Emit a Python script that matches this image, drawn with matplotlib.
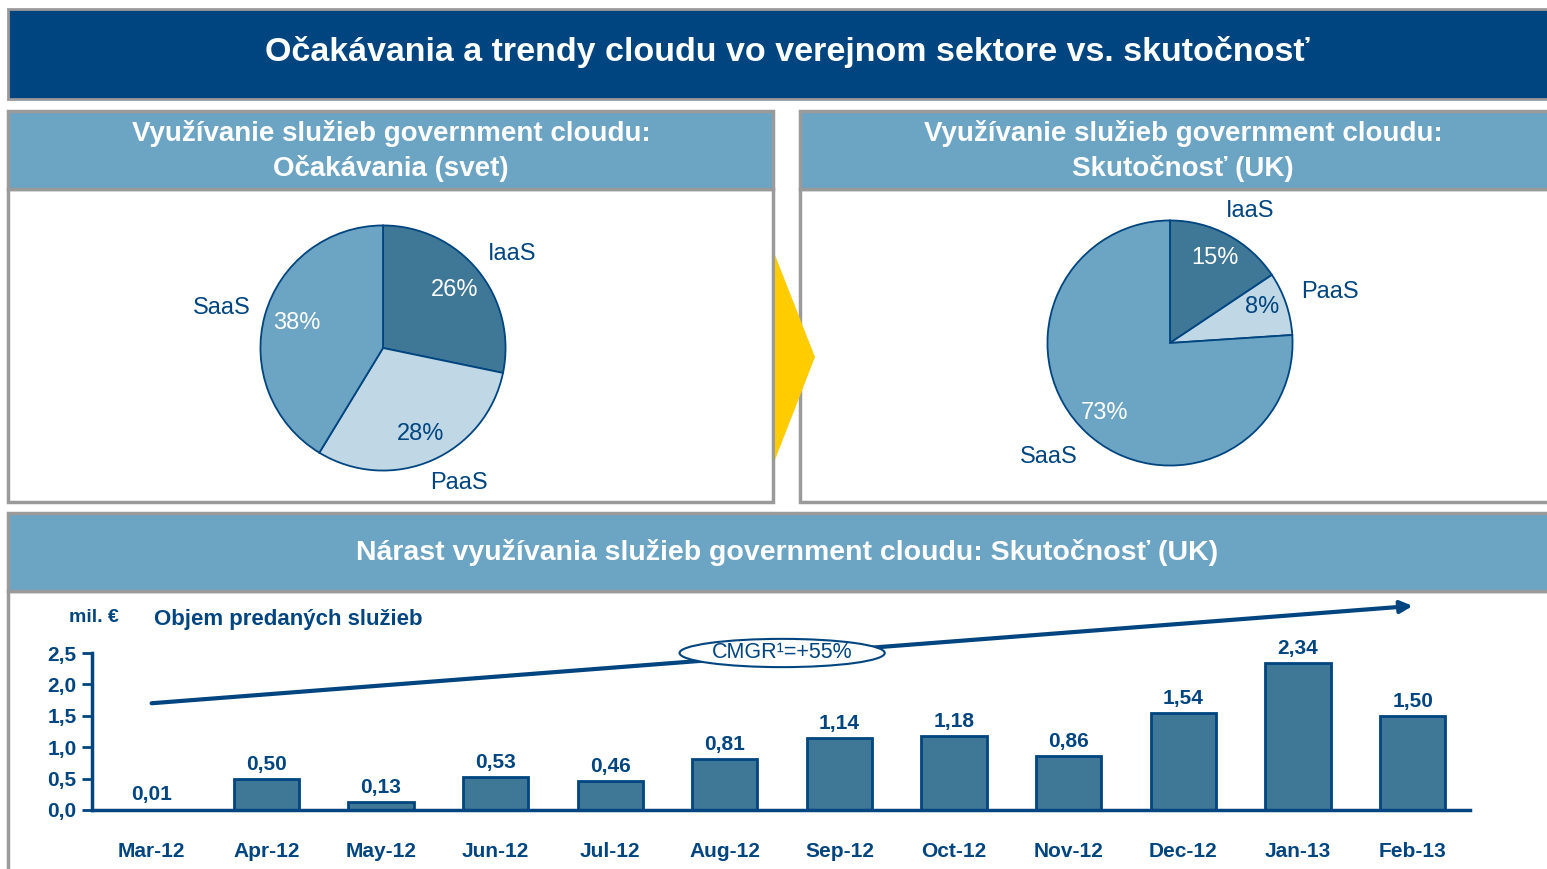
import matplotlib
matplotlib.use("Agg")
import matplotlib.pyplot as plt
from matplotlib.patches import Rectangle, Polygon, Ellipse

plt.rcParams['font.family'] = ['Liberation Sans', 'DejaVu Sans']

# data
mesiace = ["Mar-12", "Apr-12", "May-12", "Jun-12", "Jul-12", "Aug-12",
           "Sep-12", "Oct-12", "Nov-12", "Dec-12", "Jan-13", "Feb-13"]
objem = [0.01, 0.50, 0.13, 0.53, 0.46, 0.81, 1.14, 1.18, 0.86, 1.54, 2.34, 1.50]
objem_txt = ["0,01", "0,50", "0,13", "0,53", "0,46", "0,81",
             "1,14", "1,18", "0,86", "1,54", "2,34", "1,50"]

kategorie = ["IaaS", "PaaS", "SaaS"]
ocakavania = [26, 28, 38]      # svet
skutocnost = [15, 8, 73]       # UK

# farby
TMAVA = "#00457F"
SVETLA = "#6CA4C4"
STLPEC = "#3F7797"
PAAS = "#C0D8E6"
SEDA = "#9A9A9A"
pie_farby = [STLPEC, PAAS, SVETLA]

W, H = 1547, 869
fig = plt.figure(figsize=(W / 100, H / 100), dpi=100)


def px(x, y):
    return x / W, 1 - y / H


def box(x0, y0, x1, y1):
    l, t = px(x0, y0)
    r, b = px(x1, y1)
    return [l, b, r - l, t - b]


# pozadie v pixeloch
bg = fig.add_axes([0, 0, 1, 1], zorder=0)
bg.set_xlim(0, W)
bg.set_ylim(H, 0)
bg.axis("off")

bg.add_patch(Rectangle((8, 9), 1545, 90, fc=TMAVA, ec=SEDA, lw=2))
# lave a prave okno
for x0, x1 in [(8, 773), (800, 1552)]:
    bg.add_patch(Rectangle((x0, 189), x1 - x0, 313, fc="white", ec=SEDA, lw=2.5))
    bg.add_patch(Rectangle((x0, 111), x1 - x0, 78, fc=SVETLA, ec=SEDA, lw=2.5))
# spodne okno
bg.add_patch(Rectangle((8, 591), 1545, 290, fc="white", ec=SEDA, lw=2.5))
bg.add_patch(Rectangle((8, 513), 1545, 78, fc=SVETLA, ec=SEDA, lw=2.5))

bg.text(787, 52, "Očakávania a trendy cloudu vo verejnom sektore vs. skutočnosť",
        color="white", fontsize=24.5, fontweight="bold", ha="center", va="center")
bg.text(391, 151, "Využívanie služieb government cloudu:\nOčakávania (svet)",
        color="white", fontsize=20, fontweight="bold", ha="center", va="center",
        linespacing=1.35)
bg.text(1183, 151, "Využívanie služieb government cloudu:\nSkutočnosť (UK)",
        color="white", fontsize=20, fontweight="bold", ha="center", va="center",
        linespacing=1.35)
bg.text(787, 552, "Nárast využívania služieb government cloudu: Skutočnosť (UK)",
        color="white", fontsize=20.5, fontweight="bold", ha="center", va="center")

# kolace
def kolac(cx, cy, r, hodnoty):
    ax = fig.add_axes(box(cx - r, cy - r, cx + r, cy + r), zorder=2)
    ax.pie(hodnoty, colors=pie_farby, startangle=90, counterclock=False,
           wedgeprops=dict(edgecolor=TMAVA, linewidth=1.3))
    ax.set_xlim(-1.02, 1.02)
    ax.set_ylim(-1.02, 1.02)
    ax.set_aspect("equal")
    ax.axis("off")
    return ax


kolac(383, 348, 125, ocakavania)
kolac(1170, 343, 125, skutocnost)

fg = fig.add_axes([0, 0, 1, 1], zorder=3)
fg.set_xlim(0, W)
fg.set_ylim(H, 0)
fg.axis("off")
fg.patch.set_alpha(0)

# popisy kolacov
lab1 = [(512, 254), (459, 483), (222, 308)]
pct1 = [(455, 290), (421, 434), (297, 323)]
lab2 = [(1250, 211), (1330, 292), (1049, 457)]
pct2 = [(1215, 258), (1262, 307), (1105, 413)]
pct_farby = ["white", TMAVA, "white"]
for i, k in enumerate(kategorie):
    fg.text(*lab1[i], k, color=TMAVA, fontsize=17, ha="center", va="center")
    fg.text(*pct1[i], f"{ocakavania[i]}%", color=pct_farby[i], fontsize=17,
            ha="center", va="center")
    fg.text(*lab2[i], k, color=TMAVA, fontsize=17, ha="center", va="center")
    fg.text(*pct2[i], f"{skutocnost[i]}%", color=pct_farby[i], fontsize=17,
            ha="center", va="center")

# zlta sipka
fg.add_patch(Polygon([(775, 255), (815, 357), (775, 460)], closed=True,
                     fc="#FFCC00", ec="none"))

# stlpcovy graf
ax = fig.add_axes(box(92, 600, 1470, 810), zorder=2)
ax.patch.set_alpha(0)
x = list(range(len(mesiace)))
okraje = [0 if v < 0.05 else 2 for v in objem]
ax.bar(x, objem, width=0.57, color=STLPEC, edgecolor=TMAVA, linewidth=okraje,
       zorder=2)
for xi, v, t in zip(x, objem, objem_txt):
    ax.text(xi, v + 0.08, t, color=TMAVA, fontsize=15, fontweight="bold",
            ha="center", va="bottom")
ax.set_xlim(-0.52, 11.5)
ax.set_ylim(0, 210 / 62.8)
ax.set_xticks(x)
ax.set_xticklabels(mesiace)
ax.set_yticks([0, 0.5, 1.0, 1.5, 2.0, 2.5])
ax.set_yticklabels(["0,0", "0,5", "1,0", "1,5", "2,0", "2,5"])
ax.tick_params(axis="x", length=0, pad=23, labelsize=15, labelcolor=TMAVA)
ax.tick_params(axis="y", length=7, width=2, color=TMAVA, pad=4,
               labelsize=15, labelcolor=TMAVA)
for lbl in ax.get_xticklabels() + ax.get_yticklabels():
    lbl.set_fontweight("bold")
ax.spines[["top", "right"]].set_visible(False)
for s in ["left", "bottom"]:
    ax.spines[s].set_color(TMAVA)
    ax.spines[s].set_linewidth(2.5)
ax.spines["left"].set_bounds(0, 2.5)

# trend CMGR
ax.annotate("", xy=(11.0, 3.25), xytext=(0, 1.70),
            arrowprops=dict(arrowstyle="-|>", color=TMAVA, lw=3,
                            mutation_scale=18, shrinkA=0, shrinkB=0),
            annotation_clip=False, zorder=3)
ax.add_patch(Ellipse((5.5, 2.5), 1.79, 0.45, fc="white", ec=TMAVA, lw=1.5,
                     zorder=4, clip_on=False))
ax.text(5.5, 2.5, "CMGR¹=+55%", color=TMAVA, fontsize=15.5, ha="center",
        va="center", zorder=5)

ax.text(-0.72, 3.06, "mil. €", color=TMAVA, fontsize=14,
        fontweight="bold", ha="left", va="center")
ax.text(0.02, 3.04, "Objem predaných služieb", color=TMAVA, fontsize=16,
        fontweight="bold", ha="left", va="center")

fig.savefig("out.png", dpi=100)
